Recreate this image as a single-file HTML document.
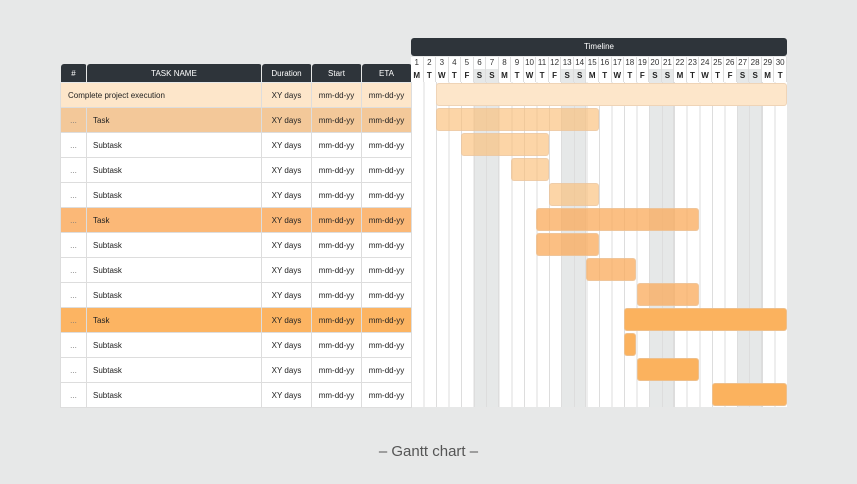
<!DOCTYPE html>
<html><head><meta charset="utf-8"><style>
body{margin:0;width:857px;height:484px;background:#e7e8e8;font-family:"Liberation Sans",sans-serif;position:relative;overflow:hidden}
.a{position:absolute;box-sizing:border-box}
table{position:absolute;left:60px;top:63px;border-collapse:collapse;font-size:8px;color:#222}
td,th{box-sizing:border-box;height:25px;border:1px solid #ddd;padding:0}
th{height:19px;background:#2e343a;color:#fff;font-weight:normal;font-size:8px;border:1px solid #e7e8e8;border-radius:3px 3px 0 0;text-align:center}
td{background:#fff}
td.c{text-align:center}
td.d{text-align:center;color:#777}
tr.p td{background:#fde6ca}
tr.t1 td{background:#f3c899}
tr.t2 td{background:#fbb877}
tr.t3 td{background:#fcb462}
.row{display:flex;position:absolute;left:411px;width:376px;font-size:8px;color:#333}
.row div{flex:1;text-align:center;border-right:1px solid #ddd;box-sizing:border-box;background:#fff}
.bar{position:absolute;height:23px;border-radius:3px;box-sizing:border-box;border:1px solid rgba(230,200,170,0.6)}
</style></head><body>
<table>
<tr><th style="width:26px">#</th><th style="width:175px">TASK NAME</th><th style="width:50px">Duration</th><th style="width:50px">Start</th><th style="width:50px">ETA</th></tr>
<tr class="p"><td colspan="2" style="padding-left:7px">Complete project execution</td><td class="c">XY days</td><td class="c">mm-dd-yy</td><td class="c">mm-dd-yy</td></tr>
<tr class="t1"><td class="d">...</td><td style="padding-left:6px">Task</td><td class="c">XY days</td><td class="c">mm-dd-yy</td><td class="c">mm-dd-yy</td></tr>
<tr><td class="d">...</td><td style="padding-left:6px">Subtask</td><td class="c">XY days</td><td class="c">mm-dd-yy</td><td class="c">mm-dd-yy</td></tr>
<tr><td class="d">...</td><td style="padding-left:6px">Subtask</td><td class="c">XY days</td><td class="c">mm-dd-yy</td><td class="c">mm-dd-yy</td></tr>
<tr><td class="d">...</td><td style="padding-left:6px">Subtask</td><td class="c">XY days</td><td class="c">mm-dd-yy</td><td class="c">mm-dd-yy</td></tr>
<tr class="t2"><td class="d">...</td><td style="padding-left:6px">Task</td><td class="c">XY days</td><td class="c">mm-dd-yy</td><td class="c">mm-dd-yy</td></tr>
<tr><td class="d">...</td><td style="padding-left:6px">Subtask</td><td class="c">XY days</td><td class="c">mm-dd-yy</td><td class="c">mm-dd-yy</td></tr>
<tr><td class="d">...</td><td style="padding-left:6px">Subtask</td><td class="c">XY days</td><td class="c">mm-dd-yy</td><td class="c">mm-dd-yy</td></tr>
<tr><td class="d">...</td><td style="padding-left:6px">Subtask</td><td class="c">XY days</td><td class="c">mm-dd-yy</td><td class="c">mm-dd-yy</td></tr>
<tr class="t3"><td class="d">...</td><td style="padding-left:6px">Task</td><td class="c">XY days</td><td class="c">mm-dd-yy</td><td class="c">mm-dd-yy</td></tr>
<tr><td class="d">...</td><td style="padding-left:6px">Subtask</td><td class="c">XY days</td><td class="c">mm-dd-yy</td><td class="c">mm-dd-yy</td></tr>
<tr><td class="d">...</td><td style="padding-left:6px">Subtask</td><td class="c">XY days</td><td class="c">mm-dd-yy</td><td class="c">mm-dd-yy</td></tr>
<tr><td class="d">...</td><td style="padding-left:6px">Subtask</td><td class="c">XY days</td><td class="c">mm-dd-yy</td><td class="c">mm-dd-yy</td></tr>
</table>

<div class="a" style="left:411px;top:38px;width:376px;height:18px;background:#2e343a;border-radius:3px;color:#fff;font-size:8px;text-align:center;line-height:18px">Timeline</div>

<div class="a" style="left:411px;top:82px;width:376px;height:325px;background:#fff repeating-linear-gradient(to right,#ddd 0 1px,transparent 1px 12.533px)"></div>
<div class="a" style="left:473.7px;top:69px;width:25px;height:338px;background:#e6e8e8;border-left:1px solid #ddd;border-right:1px solid #ddd"></div>
<div class="a" style="left:561.4px;top:69px;width:25px;height:338px;background:#e6e8e8;border-left:1px solid #ddd;border-right:1px solid #ddd"></div>
<div class="a" style="left:649.1px;top:69px;width:25px;height:338px;background:#e6e8e8;border-left:1px solid #ddd;border-right:1px solid #ddd"></div>
<div class="a" style="left:736.9px;top:69px;width:25px;height:338px;background:#e6e8e8;border-left:1px solid #ddd;border-right:1px solid #ddd"></div>
<div class="a" style="left:486px;top:69px;width:1px;height:338px;background:#ddd"></div>
<div class="a" style="left:573.9px;top:69px;width:1px;height:338px;background:#ddd"></div>
<div class="a" style="left:661.6px;top:69px;width:1px;height:338px;background:#ddd"></div>
<div class="a" style="left:749.4px;top:69px;width:1px;height:338px;background:#ddd"></div>

<div class="row" style="top:57px;height:12px;line-height:12px;border-bottom:1px solid #ddd"><div>1</div><div>2</div><div>3</div><div>4</div><div>5</div><div>6</div><div>7</div><div>8</div><div>9</div><div>10</div><div>11</div><div>12</div><div>13</div><div>14</div><div>15</div><div>16</div><div>17</div><div>18</div><div>19</div><div>20</div><div>21</div><div>22</div><div>23</div><div>24</div><div>25</div><div>26</div><div>27</div><div>28</div><div>29</div><div>30</div></div>
<div class="row" style="top:69px;height:13px;line-height:13px;font-weight:bold;color:#222"><div>M</div><div>T</div><div>W</div><div>T</div><div>F</div><div style="background:#e6e8e8">S</div><div style="background:#e6e8e8">S</div><div>M</div><div>T</div><div>W</div><div>T</div><div>F</div><div style="background:#e6e8e8">S</div><div style="background:#e6e8e8">S</div><div>M</div><div>T</div><div>W</div><div>T</div><div>F</div><div style="background:#e6e8e8">S</div><div style="background:#e6e8e8">S</div><div>M</div><div>T</div><div>W</div><div>T</div><div>F</div><div style="background:#e6e8e8">S</div><div style="background:#e6e8e8">S</div><div>M</div><div>T</div></div>

<div class="bar" style="left:436px;top:83px;width:351px;background:#fde6ca"></div>
<div class="bar" style="left:436px;top:108px;width:163px;background:rgba(251,190,120,0.65)"></div>
<div class="bar" style="left:461px;top:133px;width:88px;background:rgba(251,190,120,0.65)"></div>
<div class="bar" style="left:511px;top:158px;width:38px;background:rgba(251,190,120,0.65)"></div>
<div class="bar" style="left:549px;top:183px;width:50px;background:rgba(251,190,120,0.65)"></div>
<div class="bar" style="left:536px;top:208px;width:163px;background:rgba(250,170,90,0.75)"></div>
<div class="bar" style="left:536px;top:233px;width:63px;background:rgba(250,170,90,0.75)"></div>
<div class="bar" style="left:586px;top:258px;width:50px;background:rgba(250,170,90,0.75)"></div>
<div class="bar" style="left:637px;top:283px;width:62px;background:rgba(250,170,90,0.75)"></div>
<div class="bar" style="left:624px;top:308px;width:163px;background:#fbb25e"></div>
<div class="bar" style="left:624px;top:333px;width:12px;background:#fbb25e"></div>
<div class="bar" style="left:637px;top:358px;width:62px;background:#fbb25e"></div>
<div class="bar" style="left:712px;top:383px;width:75px;background:#fbb25e"></div>

<div class="a" style="left:0;width:857px;top:443px;text-align:center;font-size:15px;color:#555">– Gantt chart –</div>
</body></html>
